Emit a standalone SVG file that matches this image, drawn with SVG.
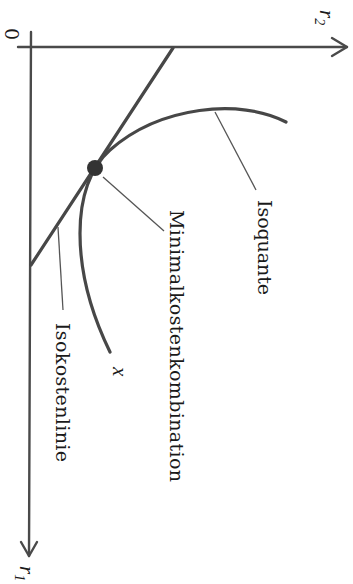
<svg xmlns="http://www.w3.org/2000/svg" width="353" height="584" viewBox="0 0 353 584">
<style>
.ax{fill:none;stroke:#4a4a4a;stroke-width:2.4;stroke-linecap:round;stroke-linejoin:round}
.main{fill:none;stroke:#474747;stroke-width:3.2;stroke-linecap:round}
.lead{fill:none;stroke:#555;stroke-width:1.3}
.lbl{font-family:"DejaVu Serif","Liberation Serif",serif;font-size:19px;fill:#1a1a1a}
.it{font-family:"Liberation Serif","Times New Roman",serif;font-style:italic;font-size:21px;fill:#1a1a1a}
</style>
<rect width="353" height="584" fill="#fff"/>
<g id="axes">
<line class="ax" x1="18" y1="47" x2="347" y2="47"/>
<polyline class="ax" points="332,38 347,47 332,56"/>
<line class="ax" x1="31" y1="32" x2="29" y2="556"/>
<polyline class="ax" points="21,542 29,556 37,542"/>
<text class="lbl" font-size="17" transform="translate(5,28) rotate(90)">0</text>
<text class="it" transform="translate(320,10) rotate(90)">r<tspan font-size="14" dy="5">2</tspan></text>
<text class="it" transform="translate(20,566) rotate(90)">r<tspan font-size="14" dy="5">1</tspan></text>
</g>
<g id="isokostenlinie">
<line class="main" x1="173" y1="48" x2="31" y2="265"/>
</g>
<g id="isoquante">
<path class="main" d="M286,122 C240,98 160,106 110,150 C70,185 70,270 110,352"/>
<text class="it" transform="translate(113,367) rotate(90)">x</text>
</g>
<g id="minimalkostenkombination">
<circle cx="95" cy="168" r="8" fill="#333"/>
</g>
<g id="connectors">
<line class="lead" x1="215" y1="112" x2="256" y2="190"/>
<line class="lead" x1="103" y1="177" x2="164" y2="231" stroke="#222" stroke-width="1.6"/>
<line class="lead" x1="58" y1="227" x2="63" y2="310"/>
</g>
<g id="labels">
<text class="lbl" transform="translate(258,200) rotate(90)" textLength="95">Isoquante</text>
<text class="lbl" transform="translate(170,210) rotate(90)" textLength="272">Minimalkostenkombination</text>
<text class="lbl" transform="translate(56,323) rotate(90)" textLength="139">Isokostenlinie</text>
</g>
</svg>
